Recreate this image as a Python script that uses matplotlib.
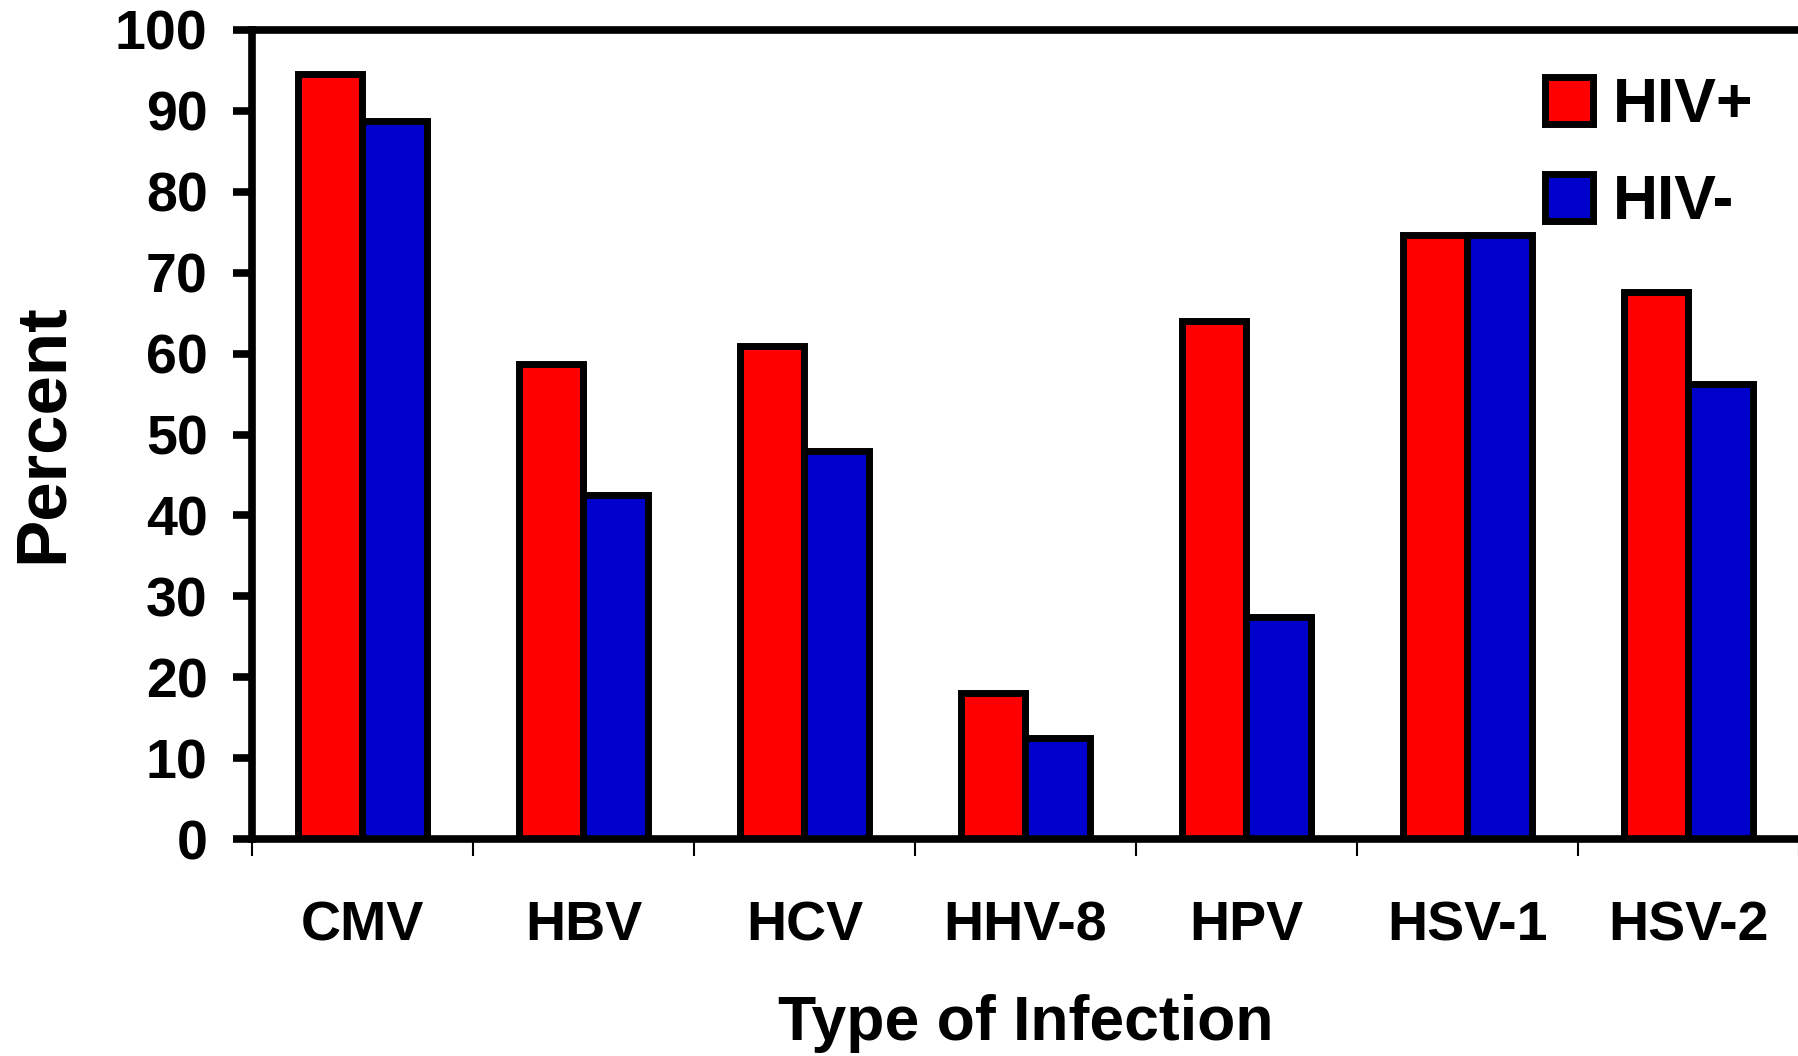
import matplotlib
matplotlib.use("Agg")
import matplotlib.pyplot as plt
import numpy as np

categories = ["CMV", "HBV", "HCV", "HHV-8", "HPV", "HSV-1", "HSV-2"]
hiv_pos = [94.5, 58.7, 61, 18, 64, 74.7, 67.6]
hiv_neg = [88.8, 42.5, 48, 12.5, 27.5, 74.7, 56.3]
yticks = [0, 10, 20, 30, 40, 50, 60, 70, 80, 90, 100]

plt.rcParams['font.family'] = ['Liberation Sans', 'DejaVu Sans']
plt.rcParams['font.weight'] = 'bold'

fig = plt.figure(figsize=(17.99, 10.56), dpi=100)
ax = fig.add_axes([252/1799, 1-839/1056, 1-252/1799, (839-30)/1056])

x = np.arange(len(categories))
w = 0.29
ax.bar(x - w/2, hiv_pos, w, color='#FF0000', edgecolor='black', linewidth=5, label='HIV+', zorder=2)
ax.bar(x + w/2, hiv_neg, w, color='#0000CC', edgecolor='black', linewidth=5, label='HIV-', zorder=2)

ax.set_xlim(-0.5, len(categories) - 0.5)
ax.set_ylim(0, 100)

for s in ['left', 'bottom', 'top']:
    ax.spines[s].set_linewidth(5.5)
    ax.spines[s].set_color('black')
ax.spines['right'].set_visible(False)

ax.set_yticks(yticks)
ax.set_yticklabels([str(v) for v in yticks], fontsize=40, fontweight='bold')
ax.tick_params(axis='y', direction='out', length=14, width=5.5, pad=18)

ax.set_xticks(x)
ax.set_xticklabels(categories, fontsize=40, fontweight='bold')
ax.tick_params(axis='x', which='major', length=0, pad=44)
ax.set_xticks(np.arange(-0.5, len(categories) - 0.4, 1.0), minor=True)
ax.tick_params(axis='x', which='minor', direction='out', length=12, width=1.5)

ax.set_xlabel('Type of Infection', fontsize=45, fontweight='bold')
ax.xaxis.set_label_coords(0.5, -0.192)
ax.set_ylabel('Percent', fontsize=51, fontweight='bold')
ax.yaxis.set_label_coords(-0.113, 0.502)

leg = fig.legend(loc='upper left', bbox_to_anchor=(1545/1799, 1-76/1056),
                 bbox_transform=fig.transFigure, frameon=False,
                 prop={'size': 45, 'weight': 'bold'},
                 handlelength=0.77, handleheight=0.77, handletextpad=0.32,
                 labelspacing=0.61, borderpad=0, borderaxespad=0)

fig.savefig('out.png', dpi=100)
